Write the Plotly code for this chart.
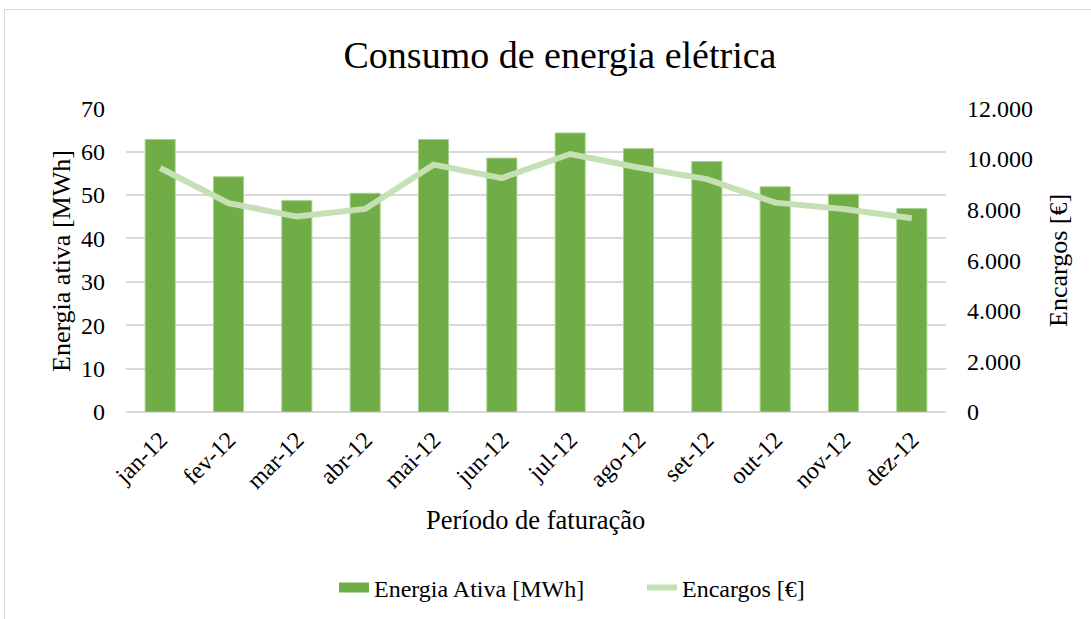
import plotly.graph_objects as go

meses = ["jan-12", "fev-12", "mar-12", "abr-12", "mai-12", "jun-12",
         "jul-12", "ago-12", "set-12", "out-12", "nov-12", "dez-12"]
energia_ativa = [62.8, 54.2, 48.7, 50.4, 62.8, 58.5, 64.3, 60.7, 57.7, 51.9, 50.2, 46.9]
encargos = [9640, 8250, 7720, 8020, 9770, 9240, 10190, 9660, 9200, 8270, 8020, 7650]

FONT = "Liberation Serif, Times New Roman, serif"
BAR_COLOR = "#70ad47"
LINE_COLOR = "#c5e0b4"

L, R, T, B = 126, 145, 108, 207
PW = 1091 - L - R
PH = 619 - T - B

fig = go.Figure()
fig.add_trace(go.Bar(x=meses, y=energia_ativa, name="Energia Ativa [MWh]",
                     marker=dict(color=BAR_COLOR, line=dict(color="#a9d18e", width=1)),
                     yaxis="y", showlegend=False, legendgroup="e"))
# legend entry drawn as a wide swatch like the original
fig.add_trace(go.Scatter(x=[None], y=[None], name="Energia Ativa [MWh]", mode="lines",
                         line=dict(color=BAR_COLOR, width=12), legendgroup="e",
                         yaxis="y"))
fig.add_trace(go.Scatter(x=meses, y=encargos, name="Encargos [€]", mode="lines",
                         line=dict(color=LINE_COLOR, width=6), yaxis="y2"))

ymax = 70.05
fig.update_layout(
    template="none",
    width=1091, height=619,
    margin=dict(l=L, r=R, t=T, b=B, autoexpand=False),
    paper_bgcolor="white", plot_bgcolor="white",
    separators=",.",
    font=dict(family=FONT, size=24, color="#000000"),
    bargap=0.56,
    title=dict(text="Consumo de energia elétrica", x=(560 - L) / PW, xref="paper",
               xanchor="center", y=1 - 55 / 619, yanchor="middle", yref="container",
               font=dict(family=FONT, size=38, color="#000000")),
    xaxis=dict(tickangle=-45, showgrid=False, showline=False, ticks="", zeroline=False,
               tickfont=dict(size=24), automargin=False, ticklabelstandoff=8),
    yaxis=dict(range=[0, ymax], tickvals=[0, 10, 20, 30, 40, 50, 60, 70],
               showgrid=True, gridcolor="#d9d9d9", gridwidth=1.5,
               zeroline=True, zerolinecolor="#d9d9d9", zerolinewidth=1.5,
               showline=False, ticks="", ticklen=0, tickfont=dict(size=24),
               automargin=False, ticklabelstandoff=20),
    yaxis2=dict(range=[0, 12000 * ymax / 70], overlaying="y", side="right",
                tickvals=[0, 2000, 4000, 6000, 8000, 10000, 12000],
                showgrid=False, zeroline=False, showline=False, ticks="",
                tickformat=",d", tickfont=dict(size=24), automargin=False,
                ticklabelstandoff=20),
    legend=dict(orientation="h", x=(334 - L) / PW, xanchor="left", y=1 - 588 / 619,
                yanchor="middle", yref="container", font=dict(size=24),
                bgcolor="rgba(0,0,0,0)", traceorder="normal",
                entrywidth=263, entrywidthmode="pixels"),
    showlegend=True,
    annotations=[
        dict(text="Período de faturação", xref="paper", yref="paper",
             x=(535 - L) / PW, y=-(520 - 412) / PH, xanchor="center", yanchor="middle",
             showarrow=False, font=dict(size=26.5)),
        dict(text="Energia ativa [MWh]", xref="paper", yref="paper",
             x=-(L - 61) / PW, y=(412 - 261) / PH, xanchor="center", yanchor="middle",
             textangle=-90, showarrow=False, font=dict(size=26)),
        dict(text="Encargos [€]", xref="paper", yref="paper",
             x=1 + (1058 - (L + PW)) / PW, y=(412 - 261) / PH, xanchor="center",
             yanchor="middle", textangle=-90, showarrow=False, font=dict(size=26)),
    ],
    shapes=[
        dict(type="rect", xref="paper", yref="paper",
             x0=-(L - 4.5) / PW, x1=1 + (1095 - (L + PW)) / PW,
             y0=-(625 - 412) / PH, y1=1 + (T - 9.5) / PH,
             line=dict(color="#d9d9d9", width=1)),
    ],
)

fig.write_html("out.html", config={"displayModeBar": False},
               post_script="document.body.style.margin='0';document.body.style.overflow='hidden';")
